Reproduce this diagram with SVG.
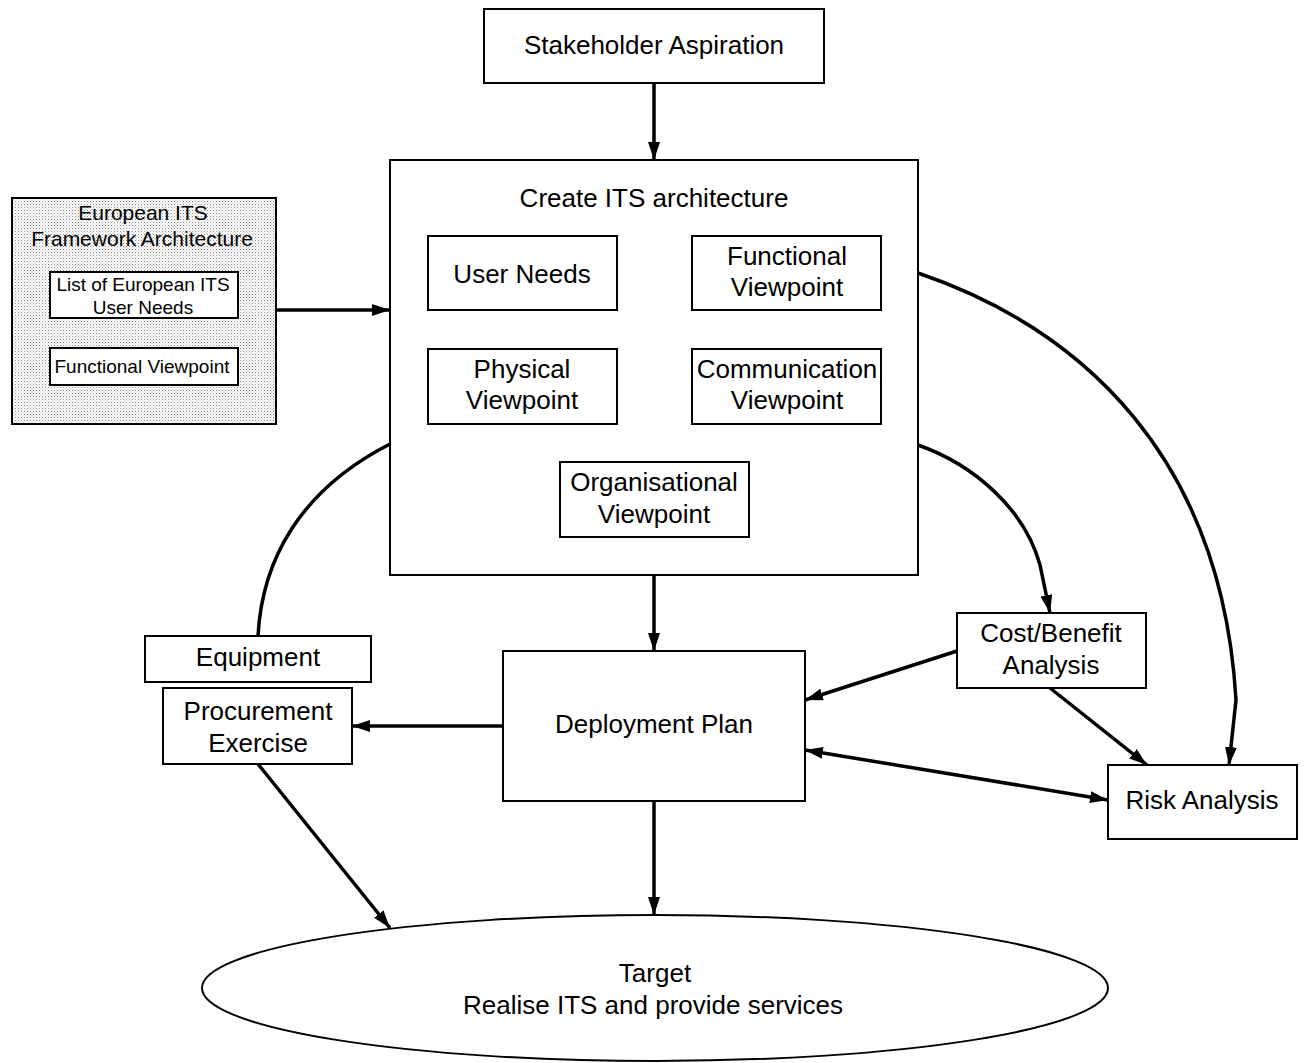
<svg xmlns="http://www.w3.org/2000/svg" width="1304" height="1063" viewBox="0 0 1304 1063">
<style>
.box{fill:#fff;stroke:#000;stroke-width:2}
.t{font-family:"Liberation Sans",Arial,sans-serif;font-size:26px;fill:#000;text-anchor:middle}
.s{font-family:"Liberation Sans",Arial,sans-serif;font-size:21px;fill:#000;text-anchor:middle}
.xs{font-family:"Liberation Sans",Arial,sans-serif;font-size:19px;fill:#000;text-anchor:middle}
.c{fill:none;stroke:#000;stroke-width:3.5}
</style>
<defs>
<marker id="ah" viewBox="0 0 18 12" refX="18" refY="6" markerWidth="18" markerHeight="12" markerUnits="userSpaceOnUse" orient="auto-start-reverse">
<path d="M0,0 L18,6 L0,12 z" fill="#000"/>
</marker>
<pattern id="dots" width="3" height="3" patternUnits="userSpaceOnUse">
<rect width="3" height="3" fill="#fff"/>
<rect width="1" height="1" fill="#8a8a8a"/>
<rect x="1.5" y="1.5" width="1" height="1" fill="#b0b0b0"/>
</pattern>
</defs>
<g id="stakeholder"><rect class="box" x="484" y="9" width="340" height="74"/><text class="t" x="654" y="54">Stakeholder Aspiration</text></g>
<g id="create"><rect class="box" x="390" y="160" width="528" height="415"/><text class="t" x="654" y="207">Create ITS architecture</text></g>
<g id="userneeds"><rect class="box" x="428" y="236" width="189" height="74"/><text class="t" x="522" y="283">User Needs</text></g>
<g id="functional"><rect class="box" x="692" y="236" width="189" height="74"/><text class="t" x="787" y="265">Functional</text><text class="t" x="787" y="296">Viewpoint</text></g>
<g id="physical"><rect class="box" x="428" y="349" width="189" height="75"/><text class="t" x="522" y="378">Physical</text><text class="t" x="522" y="409">Viewpoint</text></g>
<g id="communication"><rect class="box" x="692" y="349" width="189" height="75"/><text class="t" x="787" y="378">Communication</text><text class="t" x="787" y="409">Viewpoint</text></g>
<g id="organisational"><rect class="box" x="560" y="462" width="189" height="75"/><text class="t" x="654" y="491">Organisational</text><text class="t" x="654" y="523">Viewpoint</text></g>
<g id="european"><rect x="12" y="198" width="264" height="226" fill="url(#dots)" stroke="#000" stroke-width="2"/>
<text class="s" x="143" y="220">European ITS</text><text class="s" x="142" y="246">Framework Architecture</text>
<rect class="box" x="50" y="272" width="188" height="46"/><text class="xs" x="143" y="291">List of European ITS</text><text class="xs" x="143" y="314">User Needs</text>
<rect class="box" x="50" y="348" width="188" height="37"/><text class="xs" x="142" y="373">Functional Viewpoint</text></g>
<g id="equipment"><rect class="box" x="145" y="636" width="226" height="46"/><text class="t" x="258" y="666">Equipment</text></g>
<g id="procurement"><rect class="box" x="163" y="688" width="189" height="76"/><text class="t" x="258" y="720">Procurement</text><text class="t" x="258" y="752">Exercise</text></g>
<g id="deployment"><rect class="box" x="503" y="651" width="302" height="150"/><text class="t" x="654" y="733">Deployment Plan</text></g>
<g id="costbenefit"><rect class="box" x="957" y="613" width="189" height="75"/><text class="t" x="1051" y="642">Cost/Benefit</text><text class="t" x="1051" y="674">Analysis</text></g>
<g id="risk"><rect class="box" x="1108" y="765" width="189" height="74"/><text class="t" x="1202" y="809">Risk Analysis</text></g>
<g id="target"><ellipse class="box" cx="655" cy="988" rx="453" ry="73"/><text class="t" x="655" y="982">Target</text><text class="t" x="653" y="1014">Realise ITS and provide services</text></g>
<g id="connectors">
<path class="c" d="M654,83 L654,160" marker-end="url(#ah)"/>
<path class="c" d="M276,310 L390,310" marker-end="url(#ah)"/>
<path class="c" d="M654,575 L654,651" marker-end="url(#ah)"/>
<path class="c" d="M654,801 L654,915" marker-end="url(#ah)"/>
<path class="c" d="M503,726 L352,726" marker-end="url(#ah)"/>
<path class="c" d="M258,764 L390,928" marker-end="url(#ah)"/>
<path class="c" d="M957,651 L805,700" marker-end="url(#ah)"/>
<path class="c" d="M1050,688 L1147,765" marker-end="url(#ah)"/>
<path class="c" d="M805,750 L1108,800" marker-start="url(#ah)" marker-end="url(#ah)"/>
<path class="c" d="M918,445 C975,465 1025,510 1040,565 L1050,613" marker-end="url(#ah)"/>
<path class="c" d="M918,273 C1085,330 1222,460 1236,700 L1229,765" marker-end="url(#ah)"/>
<path class="c" d="M390,444 C300,490 262,560 258,636"/>
</g>
</svg>
